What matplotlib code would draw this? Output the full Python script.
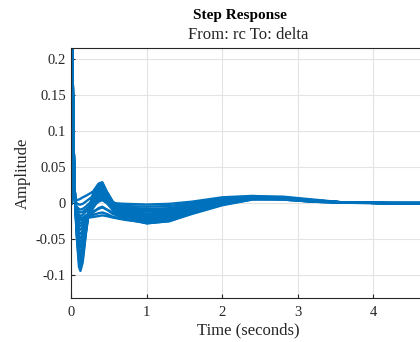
import numpy as np
import matplotlib.pyplot as plt

plt.rcParams['font.family'] = ['Liberation Serif', 'DejaVu Serif']

# time grid (s), shared by every sampled response
t = [0, 0.004, 0.02, 0.035, 0.05, 0.07, 0.1, 0.12, 0.15, 0.19, 0.24, 0.3, 0.36, 0.41,
     0.47, 0.55, 0.7, 1.0, 1.3, 1.6, 2.0, 2.4, 2.8, 3.2, 3.6, 4.2, 5.0]

# initial feed-through spike (same for all samples)
spike = [0, 0.35, 0.15, 0.05]

resp_1 = [0.0, -0.045, -0.088, -0.094, -0.082, -0.045, -0.005, 0.018, 0.027, 0.029, 0.016, 0.002, -0.008, -0.015, -0.012, -0.006, 0.002, 0.006, 0.005, 0.002, 0.0005, 0.0, 0.0]
resp_2 = [0.0, -0.040, -0.075, -0.082, -0.072, -0.040, -0.006, 0.014, 0.024, 0.026, 0.014, 0.0, -0.010, -0.018, -0.015, -0.008, 0.001, 0.006, 0.005, 0.002, 0.0005, 0.0, 0.0]
resp_3 = [0.0, -0.035, -0.062, -0.068, -0.060, -0.035, -0.008, 0.010, 0.020, 0.022, 0.011, -0.002, -0.012, -0.020, -0.017, -0.009, 0.0, 0.007, 0.006, 0.003, 0.001, 0.0, 0.0]
resp_4 = [0.0, -0.030, -0.050, -0.055, -0.048, -0.030, -0.010, 0.006, 0.015, 0.017, 0.008, -0.004, -0.015, -0.022, -0.019, -0.011, -0.001, 0.007, 0.007, 0.003, 0.001, 0.0, 0.0]
resp_5 = [0.0, -0.025, -0.040, -0.043, -0.038, -0.026, -0.012, 0.002, 0.010, 0.012, 0.004, -0.007, -0.017, -0.025, -0.022, -0.013, -0.002, 0.008, 0.008, 0.004, 0.001, 0.0, 0.0]
resp_6 = [0.0, -0.020, -0.030, -0.032, -0.029, -0.022, -0.015, -0.005, 0.004, 0.006, 0.0, -0.010, -0.020, -0.028, -0.025, -0.014, -0.002, 0.009, 0.009, 0.005, 0.001, 0.0, 0.0]
resp_7 = [0.0, -0.015, -0.022, -0.024, -0.023, -0.021, -0.020, -0.019, -0.018, -0.017, -0.018, -0.020, -0.023, -0.027, -0.024, -0.013, -0.002, 0.005, 0.006, 0.003, 0.001, 0.0, 0.0]
resp_8 = [0.003, 0.004, 0.005, 0.006, 0.008, 0.010, 0.013, 0.017, 0.020, 0.018, 0.008, 0.0, -0.001, -0.002, -0.001, 0.002, 0.008, 0.010, 0.008, 0.003, 0.001, 0.0005, 0.0]
resp_9 = [0.0, -0.005, -0.008, -0.009, -0.008, -0.005, 0.0, 0.006, 0.011, 0.012, 0.005, -0.003, -0.006, -0.008, -0.007, -0.002, 0.005, 0.009, 0.007, 0.003, 0.001, 0.0, 0.0]
resp_10 = [0.0, -0.010, -0.016, -0.018, -0.016, -0.012, -0.008, -0.003, 0.002, 0.004, 0.0, -0.006, -0.010, -0.012, -0.011, -0.005, 0.003, 0.008, 0.007, 0.003, 0.001, 0.0, 0.0]
resp_11 = [0.0, -0.042, -0.081, -0.088, -0.077, -0.042, -0.005, 0.016, 0.025, 0.027, 0.015, 0.001, -0.009, -0.017, -0.014, -0.007, 0.001, 0.006, 0.005, 0.002, 0.0005, 0.0, 0.0]
resp_12 = [0.0, -0.037, -0.068, -0.075, -0.066, -0.037, -0.007, 0.012, 0.022, 0.024, 0.012, -0.001, -0.011, -0.019, -0.016, -0.008, 0.0, 0.006, 0.006, 0.002, 0.001, 0.0, 0.0]
resp_13 = [0.0, -0.032, -0.056, -0.061, -0.054, -0.032, -0.009, 0.008, 0.017, 0.019, 0.009, -0.003, -0.013, -0.021, -0.018, -0.010, -0.001, 0.007, 0.006, 0.003, 0.001, 0.0, 0.0]
resp_14 = [0.0, -0.027, -0.045, -0.049, -0.043, -0.028, -0.011, 0.004, 0.012, 0.014, 0.006, -0.005, -0.016, -0.024, -0.020, -0.012, -0.001, 0.007, 0.007, 0.003, 0.001, 0.0, 0.0]
resp_15 = [0.0, -0.022, -0.035, -0.037, -0.033, -0.024, -0.013, -0.002, 0.007, 0.009, 0.002, -0.008, -0.018, -0.026, -0.023, -0.013, -0.002, 0.008, 0.008, 0.004, 0.001, 0.0, 0.0]
resp_16 = [0.0, -0.017, -0.026, -0.028, -0.026, -0.022, -0.018, -0.012, -0.007, -0.005, -0.009, -0.015, -0.021, -0.027, -0.024, -0.013, -0.002, 0.007, 0.007, 0.004, 0.001, 0.0, 0.0]
resp_17 = [0.0, -0.012, -0.019, -0.021, -0.020, -0.017, -0.014, -0.011, -0.008, -0.006, -0.009, -0.013, -0.017, -0.020, -0.018, -0.009, 0.0, 0.007, 0.007, 0.003, 0.001, 0.0, 0.0]
resp_18 = [0.001, 0.0, -0.002, -0.002, -0.001, 0.002, 0.006, 0.011, 0.015, 0.015, 0.007, -0.001, -0.004, -0.005, -0.004, 0.0, 0.006, 0.009, 0.008, 0.003, 0.001, 0.0, 0.0]
resp_19 = [0.0, -0.007, -0.012, -0.013, -0.012, -0.009, -0.004, 0.002, 0.006, 0.008, 0.002, -0.005, -0.008, -0.010, -0.009, -0.004, 0.004, 0.008, 0.007, 0.003, 0.001, 0.0, 0.0]
resp_20 = [0.0, -0.013, -0.020, -0.022, -0.021, -0.019, -0.018, -0.016, -0.014, -0.013, -0.015, -0.019, -0.022, -0.028, -0.025, -0.015, -0.003, 0.005, 0.006, 0.003, 0.001, 0.0, 0.0]

responses = [resp_1, resp_2, resp_3, resp_4, resp_5, resp_6, resp_7, resp_8, resp_9, resp_10,
             resp_11, resp_12, resp_13, resp_14, resp_15, resp_16, resp_17, resp_18, resp_19, resp_20]

xticks = [0, 1, 2, 3, 4]
yticks = [-0.1, -0.05, 0, 0.05, 0.1, 0.15, 0.2]
yticklabels = ['-0.1', '-0.05', '0', '0.05', '0.1', '0.15', '0.2']

fig = plt.figure(figsize=(4.2, 3.42), dpi=100)
ax = fig.add_axes([0.170, 0.1287, 0.8438, 0.7310])

for r in responses:
    ax.plot(t, spike + r, color='#0072BD', lw=1.7)

ax.set_xlim(0, 4.7)
ax.set_ylim(-0.1315, 0.215)
ax.set_xticks(xticks)
ax.set_yticks(yticks)
ax.set_yticklabels(yticklabels)
ax.tick_params(direction='in', length=3, labelsize=10.5, colors='#262626', pad=4)
ax.tick_params(axis='x', pad=6)
ax.grid(True, color='#e3e3e3', lw=0.8)
ax.set_axisbelow(True)
for s in ax.spines.values():
    s.set_color('#262626')
    s.set_linewidth(0.8)

ax.set_xlabel('Time (seconds)', fontsize=12, color='#262626', labelpad=2)
ax.set_ylabel('Amplitude', fontsize=12, color='#262626', labelpad=3)

fig.text(240 / 420, 1 - 15 / 342, 'Step Response', ha='center', va='center',
         fontsize=11, fontweight='bold')
fig.text(248.5 / 420, 1 - 35 / 342, 'From: rc To: delta', ha='center', va='center',
         fontsize=12, color='#262626')

fig.savefig('out.png', dpi=100)
